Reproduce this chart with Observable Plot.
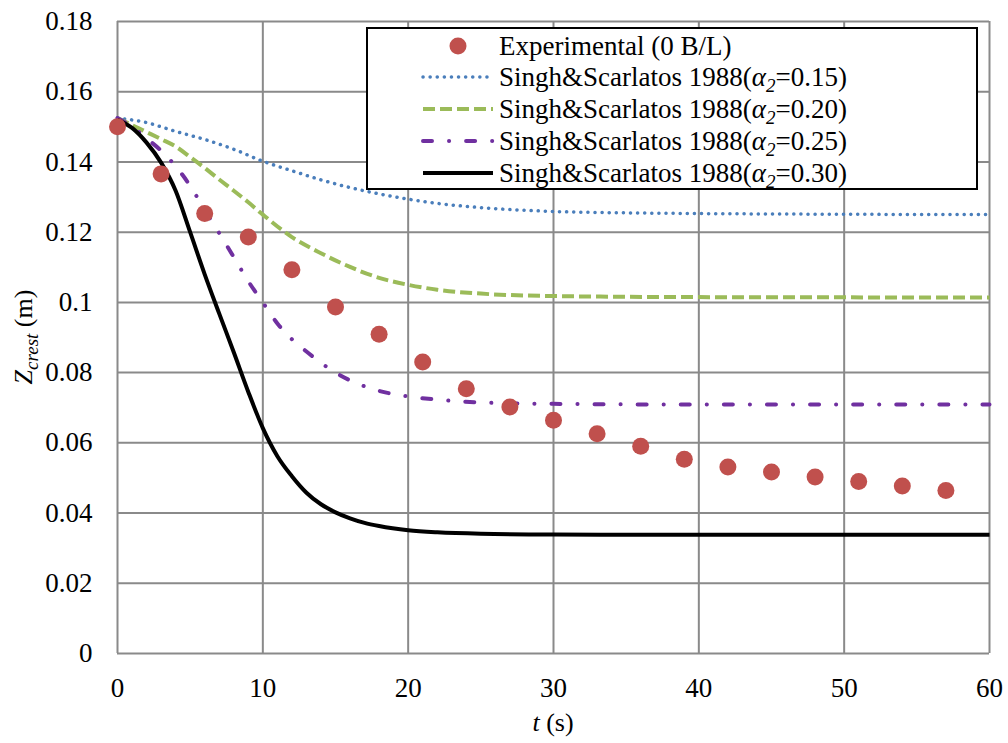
<!DOCTYPE html>
<html>
<head>
<meta charset="utf-8">
<script src="https://cdn.jsdelivr.net/npm/d3@7"></script>
<script src="https://cdn.jsdelivr.net/npm/@observablehq/plot@0.6"></script>
<style>
  body { margin: 0; background: #fff; }
  #wrap { position: relative; width: 1008px; height: 743px; }
  #wrap svg text { font-family: "Liberation Serif", "Times New Roman", serif; }
  #legend { position: absolute; left: 0; top: 0; }
</style>
</head>
<body>
<div id="wrap"></div>
<script>
// ---- data ----
const xTicks = [0, 10, 20, 30, 40, 50, 60];
const yTicks = [0, 0.02, 0.04, 0.06, 0.08, 0.1, 0.12, 0.14, 0.16, 0.18];

const tExp = [0, 3, 6, 9, 12, 15, 18, 21, 24, 27, 30, 33, 36, 39, 42, 45, 48, 51, 54, 57];
const zExp = [0.150, 0.1366, 0.1253, 0.1186, 0.1093, 0.0987, 0.0909, 0.0830, 0.0754, 0.0702,
              0.0664, 0.0626, 0.0590, 0.0553, 0.0531, 0.0517, 0.0503, 0.0490, 0.0477, 0.0464];

const t015 = [0, 2, 4, 6, 8, 10, 12, 14, 16, 18, 20, 22, 25, 30, 35, 40, 50, 60];
const z015 = [0.1525, 0.1512, 0.1487, 0.1464, 0.1436, 0.1402, 0.1375, 0.1349, 0.1327, 0.1309,
              0.1294, 0.1282, 0.1270, 0.1259, 0.1255, 0.1253, 0.1251, 0.1250];

const t020 = [0, 1, 2, 3, 4, 5, 6, 7, 8, 9, 10, 12, 14, 16, 18, 20, 22, 25, 30, 40, 60];
const z020 = [0.1525, 0.1505, 0.1485, 0.1465, 0.1444, 0.1414, 0.1383, 0.1350, 0.1318, 0.1285,
              0.1250, 0.1186, 0.1140, 0.1101, 0.1070, 0.1050, 0.1036, 0.1025, 0.1018, 0.1015, 0.1014];

const t025 = [0, 1, 2, 3, 4, 5, 6, 7, 8, 9, 10, 11, 12, 13, 14, 15, 16, 18, 20, 22, 25, 30, 40, 60];
const z025 = [0.1525, 0.1500, 0.1467, 0.1432, 0.1388, 0.1332, 0.1263, 0.1197, 0.1129, 0.1060,
              0.1000, 0.0940, 0.0895, 0.0860, 0.0828, 0.0800, 0.0778, 0.0748, 0.0732, 0.0723,
              0.0715, 0.0711, 0.0709, 0.0709];

const t030 = [0, 1, 2, 3, 4, 5, 6, 7, 8, 9, 10, 11, 12, 13, 14, 15, 16, 17, 18, 20, 22, 25, 30, 40, 60];
const z030 = [0.1520, 0.1497, 0.1455, 0.1398, 0.1318, 0.1200, 0.1080, 0.0968, 0.0858, 0.0745,
              0.0642, 0.0562, 0.0505, 0.0458, 0.0425, 0.0402, 0.0385, 0.0372, 0.0363, 0.0351,
              0.0345, 0.0341, 0.0339, 0.0338, 0.0338];

const legendLabels = ["Experimental (0 B/L)", "Singh&Scarlatos 1988", "Singh&Scarlatos 1988",
                      "Singh&Scarlatos 1988", "Singh&Scarlatos 1988"];
const alphaValues = ["0.15", "0.20", "0.25", "0.30"];

// ---- styles ----
const FONT = "Liberation Serif";
const series = [
  {t: t015, z: z015, stroke: "#4a7ebb", width: 3.5, dash: "0.1,7", cap: "round"},
  {t: t020, z: z020, stroke: "#9bbb59", width: 4, dash: "12,5", cap: "butt"},
  {t: t025, z: z025, stroke: "#7030a0", width: 4, dash: "9,17,0.1,17", cap: "round"},
  {t: t030, z: z030, stroke: "#000000", width: 4, dash: null, cap: "butt"}
];
const toRows = (ts, zs) => ts.map((t, i) => ({t, z: zs[i]}));

const marks = [
  Plot.ruleY(yTicks, {stroke: "#8a8a8a", strokeWidth: 2}),
  Plot.ruleX(xTicks, {stroke: "#8a8a8a", strokeWidth: 2}),
  ...series.map(s => Plot.line(toRows(s.t, s.z), {
    x: "t", y: "z", stroke: s.stroke, strokeWidth: s.width,
    strokeDasharray: s.dash || undefined, strokeLinecap: s.cap, curve: "monotone-x"
  })),
  Plot.dot(toRows(tExp, zExp), {x: "t", y: "z", r: 8.5, fill: "#c0504d", stroke: "none"}),
  Plot.axisX({ticks: xTicks, tickSize: 0, tickPadding: 24, label: null,
              fontFamily: FONT, fontSize: 27}),
  Plot.axisY({ticks: yTicks, tickSize: 0, tickPadding: 25, label: null,
              fontFamily: FONT, fontSize: 27,
              tickFormat: d => String(Number(d.toFixed(2)))})
];

const chart = Plot.plot({
  width: 1008, height: 743,
  marginLeft: 117, marginRight: 19, marginTop: 21, marginBottom: 90,
  x: {domain: [0, 60]},
  y: {domain: [0, 0.18]},
  style: {fontFamily: FONT, fontSize: "27px", color: "#000", background: "#fff"},
  marks
});
document.getElementById("wrap").appendChild(chart);

// force serif font on all tick labels
const svg = d3.select(chart);
svg.selectAll("g[aria-label$='tick label'], g[aria-label$='tick label'] text")
  .attr("font-family", "Liberation Serif")
  .attr("font-variant", "normal")
  .style("font-family", "'Liberation Serif', serif")
  .style("font-variant", "normal")
  .style("font-variant-numeric", "normal");
svg.selectAll("text")
  .style("font-family", "'Liberation Serif', serif");

// axis titles
const xt = svg.append("text").attr("x", 553).attr("y", 731)
  .attr("text-anchor", "middle").attr("font-size", 26).attr("fill", "#000");
xt.append("tspan").attr("font-style", "italic").text("t");
xt.append("tspan").text(" (s)");

const yt = svg.append("text").attr("transform", "translate(32,337) rotate(-90)")
  .attr("text-anchor", "middle").attr("font-size", 26).attr("fill", "#000");
yt.append("tspan").attr("font-style", "italic").text("Z");
yt.append("tspan").attr("font-style", "italic").attr("font-size", 19).attr("dy", 6).text("crest");
yt.append("tspan").attr("dy", -6).text(" (m)");

// ---- legend ----
const lg = d3.select("#wrap").append("svg").attr("id", "legend")
  .attr("width", 1008).attr("height", 743);
lg.append("rect").attr("x", 367).attr("y", 28).attr("width", 610).attr("height", 161)
  .attr("fill", "#fff").attr("stroke", "#000").attr("stroke-width", 2);
const rowY = [46, 77, 109, 141, 173];
lg.append("circle").attr("cx", 458).attr("cy", rowY[0]).attr("r", 8.5).attr("fill", "#c0504d");
series.forEach((s, i) => {
  const ln = lg.append("line").attr("x1", 423).attr("x2", 493)
    .attr("y1", rowY[i + 1]).attr("y2", rowY[i + 1])
    .attr("stroke", s.stroke).attr("stroke-width", s.width).attr("stroke-linecap", s.cap);
  if (s.dash) ln.attr("stroke-dasharray", s.dash);
});
legendLabels.forEach((lab, i) => {
  const tx = lg.append("text").attr("x", 499).attr("y", rowY[i] + 9)
    .attr("font-size", 27).attr("fill", "#000");
  tx.append("tspan").text(lab);
  if (i > 0) {
    tx.append("tspan").text("(");
    tx.append("tspan").attr("font-style", "italic").text("α");
    tx.append("tspan").attr("font-style", "italic").attr("font-size", 19).attr("dy", 6).text("2");
    tx.append("tspan").attr("dy", -6).text("=" + alphaValues[i - 1] + ")");
  }
});
</script>
</body>
</html>
